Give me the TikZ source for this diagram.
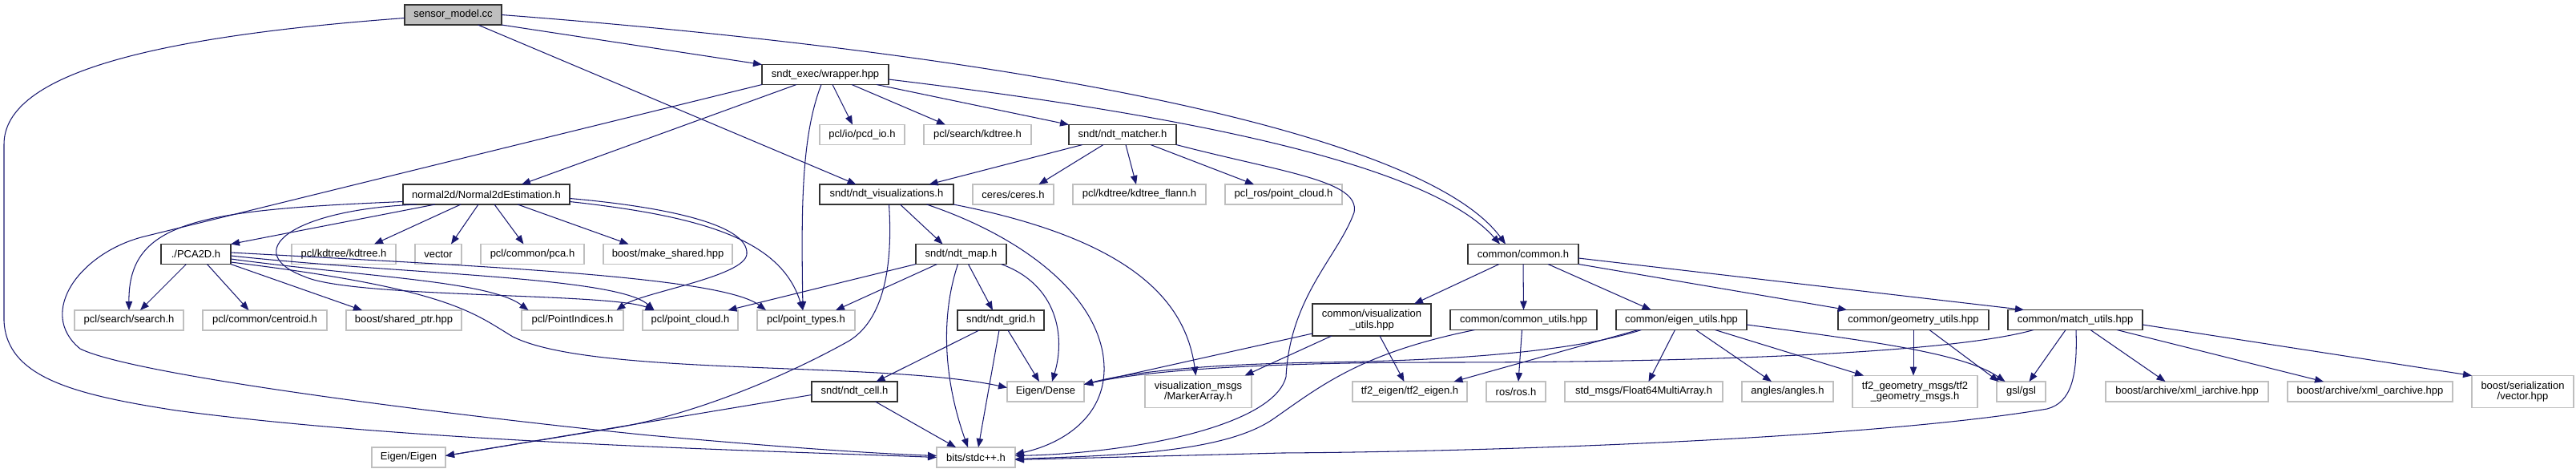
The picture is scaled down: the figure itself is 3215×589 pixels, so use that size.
\documentclass[tikz,border=0pt]{standalone}
\usepackage{fontspec}
\setmainfont{Liberation Sans}
\usetikzlibrary{positioning, arrows.meta}
\definecolor{edgeblue}{HTML}{191970}
\definecolor{extgray}{HTML}{BFBFBF}

\begin{document}
\begin{tikzpicture}[
  x=1pt, y=1pt,
  node distance=24pt,
  file/.style={draw=black!80, line width=1.2pt, minimum height=25pt, inner sep=1pt,
               outer sep=0pt, align=center, font=\fontsize{13}{13.5}\selectfont},
  extfile/.style={file, draw=extgray},
  rootfile/.style={file, fill=extgray},
  arr/.style={-{Triangle[length=11pt, width=8.5pt]}, edgeblue, line width=1.05pt}
 ]
\useasboundingbox (0,0) rectangle (3215,-589);

\node[rootfile, minimum width=121pt] (sensor) at (565.5,-18.5) {sensor\_model.cc};
\node[file, minimum width=158pt] (wrapper) at (1030,-93) {sndt\_exec/wrapper.hpp};
\node[extfile, minimum width=106pt] (pcdio) at (1076,-168) {pcl/io/pcd\_io.h};
\node[extfile, minimum width=134pt, right=of pcdio] (searchkd) {pcl/search/kdtree.h};
\node[file, minimum width=134pt, right=47pt of searchkd] (matcher) {sndt/ndt\_matcher.h};
\node[file, minimum width=208pt] (normal2d) at (607,-242.5) {normal2d/Normal2dEstimation.h};
\node[file, minimum width=167pt] (ndtvis) at (1106.5,-242.5) {sndt/ndt\_visualizations.h};
\node[extfile, minimum width=101pt, right=of ndtvis] (ceres) {ceres/ceres.h};
\node[extfile, minimum width=166pt, right=of ceres] (flann) {pcl/kdtree/kdtree\_flann.h};
\node[extfile, minimum width=146pt, right=of flann] (rospc) {pcl\_ros/point\_cloud.h};
\node[file, minimum width=87pt] (pca2d) at (244.5,-317) {./PCA2D.h};
\node[extfile, minimum width=130pt, right=76pt of pca2d] (kdtree) {pcl/kdtree/kdtree.h};
\node[extfile, minimum width=58pt, right=of kdtree] (vector) {vector};
\node[extfile, minimum width=129pt, right=of vector] (pca) {pcl/common/pca.h};
\node[extfile, minimum width=161pt, right=of pca] (makeshared) {boost/make\_shared.hpp};
\node[file, minimum width=113pt] (ndtmap) at (1199.5,-317) {sndt/ndt\_map.h};
\node[file, minimum width=138pt] (common) at (1901,-317) {common/common.h};
\node[extfile, minimum width=136pt] (search) at (161,-399.5) {pcl/search/search.h};
\node[extfile, minimum width=155pt, right=of search] (centroid) {pcl/common/centroid.h};
\node[extfile, minimum width=144pt, right=of centroid] (sharedptr) {boost/shared\_ptr.hpp};
\node[extfile, minimum width=127pt, right=75pt of sharedptr] (pointindices) {pcl/PointIndices.h};
\node[extfile, minimum width=119pt, right=of pointindices] (pointcloud) {pcl/point\_cloud.h};
\node[extfile, minimum width=122pt, right=of pointcloud] (pointtypes) {pcl/point\_types.h};
\node[file, minimum width=108pt] (ndtgrid) at (1249,-399.5) {sndt/ndt\_grid.h};
\node[file, minimum width=148pt, minimum height=40pt] (visutils) at (1712,-399) {common/visualization\\\_utils.hpp};
\node[file, minimum width=183pt, right=of visutils] (commonutils) {common/common\_utils.hpp};
\node[file, minimum width=163pt, right=of commonutils] (eigenutils) {common/eigen\_utils.hpp};
\node[file, minimum width=188pt, right=114pt of eigenutils] (geomutils) {common/geometry\_utils.hpp};
\node[file, minimum width=168pt, right=of geomutils] (matchutils) {common/match\_utils.hpp};
\node[file, minimum width=107pt] (ndtcell) at (1066.5,-488.5) {sndt/ndt\_cell.h};
\node[extfile, minimum width=96pt] (dense) at (1305,-488.5) {Eigen/Dense};
\node[extfile, minimum width=133pt, minimum height=40pt, right=76pt of dense] (marker) {visualization\_msgs\\/MarkerArray.h};
\node[extfile, minimum width=143pt] (tf2eigen) at (1759.5,-488.5) {tf2\_eigen/tf2\_eigen.h};
\node[extfile, minimum width=74pt, right=of tf2eigen] (rosh) {ros/ros.h};
\node[extfile, minimum width=197pt, right=of rosh] (float64) {std\_msgs/Float64MultiArray.h};
\node[extfile, minimum width=114pt, right=of float64] (angles) {angles/angles.h};
\node[extfile, minimum width=156pt, minimum height=40pt, right=of angles] (tf2geom) {tf2\_geometry\_msgs/tf2\\\_geometry\_msgs.h};
\node[extfile, minimum width=61pt, right=of tf2geom] (gsl) {gsl/gsl};
\node[extfile, minimum width=203pt, right=75pt of gsl] (xmli) {boost/archive/xml\_iarchive.hpp};
\node[extfile, minimum width=206pt, right=of xmli] (xmlo) {boost/archive/xml\_oarchive.hpp};
\node[extfile, minimum width=127pt, minimum height=40pt, right=of xmlo] (vectorhpp) {boost/serialization\\/vector.hpp};
\node[extfile, minimum width=92pt] (eigen) at (510,-570.5) {Eigen/Eigen};
\node[extfile, minimum width=98pt] (bits) at (1218,-570.5) {bits/stdc++.h};

\draw[arr] ([yshift=-4pt]sensor.west) .. controls (200,-45) and (5,-90) .. (5,-180) -- (5,-400) .. controls (8,-470) and (90,-492) .. (220,-512) .. controls (520,-552) and (950,-562) .. (bits.west);
\draw[arr] (sensor.south east) -- (wrapper.north west);
\draw[arr] (sensor.east) .. controls (1300,-70) and (1780,-170) .. ([xshift=-22pt]common.north);
\draw[arr] ([xshift=31pt]sensor.south) -- ([xshift=-38pt]ndtvis.north);

\draw[arr] (wrapper.south west) -- (180,-295) .. controls (100,-315) and (45,-390) .. (100,-435) .. controls (170,-470) and (600,-522) .. (810,-543) .. controls (1000,-560) and (1100,-566) .. ([yshift=2pt]bits.west);
\draw[arr] ([xshift=-36pt]wrapper.south) -- ([xshift=44pt]normal2d.north);
\draw[arr] ([xshift=-5pt]wrapper.south) .. controls (1000,-170) and (1000,-260) .. ([xshift=-4pt]pointtypes.north);
\draw[arr] ([xshift=9pt]wrapper.south) -- ([xshift=-12pt]pcdio.north);
\draw[arr] ([xshift=33pt]wrapper.south) -- ([xshift=-40pt]searchkd.north);
\draw[arr] ([xshift=64pt]wrapper.south) -- (matcher.north west);
\draw[arr] ([yshift=-6pt]wrapper.east) .. controls (1450,-140) and (1780,-200) .. ([xshift=-29pt]common.north);

\draw[arr] ([xshift=-64pt]normal2d.south) -- (pca2d.north east);
\draw[arr] ([xshift=-32pt]normal2d.south) -- ([xshift=38pt]kdtree.north);
\draw[arr] ([xshift=-10pt]normal2d.south) -- ([xshift=16pt]vector.north);
\draw[arr] ([xshift=10pt]normal2d.south) -- ([xshift=-11pt]pca.north);
\draw[arr] ([xshift=39pt]normal2d.south) -- ([xshift=-49pt]makeshared.north);
\draw[arr] ([yshift=-9pt]normal2d.west) .. controls (250,-262) and (160,-275) .. (search.north);
\draw[arr] ([xshift=-87pt]normal2d.south) .. controls (360,-262) and (300,-315) .. (380,-345) .. controls (440,-372) and (760,-365) .. ([xshift=-45pt]pointcloud.north);
\draw[arr] ([yshift=-5pt]normal2d.east) .. controls (830,-258) and (935,-280) .. (932,-317) .. controls (930,-345) and (800,-365) .. ([xshift=55pt]pointindices.north);
\draw[arr] ([yshift=-9pt]normal2d.east) .. controls (880,-270) and (975,-300) .. ([xshift=-4pt]pointtypes.north);

\draw[arr] ([xshift=-12pt]pca2d.south) -- ([xshift=14pt]search.north);
\draw[arr] ([xshift=14pt]pca2d.south) -- ([xshift=-20pt]centroid.north);
\draw[arr] (pca2d.south east) -- ([xshift=-52pt]sharedptr.north);
\draw[arr] ([yshift=-6pt]pca2d.east) .. controls (450,-345) and (610,-350) .. ([xshift=-55pt]pointindices.north);
\draw[arr] ([yshift=-2pt]pca2d.east) .. controls (500,-342) and (770,-345) .. ([xshift=-45pt]pointcloud.north);
\draw[arr] ([yshift=2pt]pca2d.east) .. controls (600,-332) and (900,-345) .. ([xshift=-50pt]pointtypes.north);
\draw[arr] ([yshift=-10pt]pca2d.east) .. controls (560,-360) and (590,-390) .. (640,-420) .. controls (740,-470) and (1100,-450) .. ([yshift=5pt]dense.west);

\draw[arr] ([xshift=-50pt]matcher.south) -- ([xshift=53pt]ndtvis.north);
\draw[arr] ([xshift=-24pt]matcher.south) -- ([xshift=32pt]ceres.north);
\draw[arr] ([xshift=4pt]matcher.south) -- ([xshift=-4pt]flann.north);
\draw[arr] ([xshift=35pt]matcher.south) -- ([xshift=-37pt]rospc.north);
\draw[arr] (matcher.south east) .. controls (1600,-215) and (1698,-225) .. (1690,-265) .. controls (1670,-320) and (1610,-370) .. (1605,-470) .. controls (1590,-530) and (1420,-565) .. ([yshift=2pt]bits.east);

\draw[arr] ([xshift=17pt]ndtvis.south) -- ([xshift=-23pt]ndtmap.north);
\draw[arr] ([xshift=3pt]ndtvis.south) .. controls (1115,-340) and (1100,-400) .. (1060,-425) .. controls (980,-470) and (860,-520) .. (760,-535) -- ([yshift=2pt]eigen.east);
\draw[arr] ([xshift=50pt]ndtvis.south) .. controls (1290,-300) and (1380,-380) .. (1378,-463) .. controls (1376,-525) and (1320,-555) .. ([yshift=4pt]bits.east);
\draw[arr] (ndtvis.south east) .. controls (1420,-300) and (1480,-380) .. ([xshift=-3pt]marker.north);

\draw[arr] (ndtmap.south west) -- ([xshift=47pt]pointcloud.north);
\draw[arr] ([xshift=-30pt]ndtmap.south) -- ([xshift=37pt]pointtypes.north);
\draw[arr] ([xshift=-4pt]ndtmap.south) .. controls (1172,-400) and (1180,-480) .. ([xshift=-10pt]bits.north);
\draw[arr] ([xshift=9pt]ndtmap.south) -- ([xshift=-10pt]ndtgrid.north);
\draw[arr] ([xshift=50pt]ndtmap.south) .. controls (1320,-355) and (1330,-420) .. ([xshift=8pt]dense.north);

\draw[arr] ([xshift=-27pt]ndtgrid.south) -- ([xshift=27pt]ndtcell.north);
\draw[arr] ([xshift=-2pt]ndtgrid.south) -- ([xshift=3pt]bits.north);
\draw[arr] ([xshift=9pt]ndtgrid.south) -- ([xshift=-8pt]dense.north);

\draw[arr] ([yshift=-4pt]ndtcell.west) -- ([yshift=2pt]eigen.east);
\draw[arr] ([xshift=26pt]ndtcell.south) -- ([xshift=-25pt]bits.north);

\draw[arr] ([xshift=-30pt]common.south) -- ([xshift=53pt]visutils.north);
\draw[arr] (common.south) -- (commonutils.north);
\draw[arr] ([xshift=31pt]common.south) -- ([xshift=-38pt]eigenutils.north);
\draw[arr] (common.south east) -- ([xshift=-83pt]geomutils.north);
\draw[arr] ([yshift=-5pt]common.east) -- ([xshift=-64pt]matchutils.north);

\draw[arr] ([yshift=-17pt]visutils.west) -- ([yshift=9pt]dense.east);
\draw[arr] ([xshift=-50pt]visutils.south) -- ([xshift=58pt]marker.north);
\draw[arr] ([xshift=10pt]visutils.south) -- ([xshift=-7pt]tf2eigen.north);

\draw[arr] ([xshift=-2pt]commonutils.south) -- ([xshift=3pt]rosh.north);
\draw[arr] ([xshift=-61pt]commonutils.south) .. controls (1700,-440) and (1650,-480) .. (1590,-522) .. controls (1530,-564) and (1400,-568) .. ([yshift=-2pt]bits.east);

\draw[arr] ([xshift=-50pt]eigenutils.south) .. controls (1960,-440) and (1800,-450) .. (1650,-452) .. controls (1520,-454) and (1420,-462) .. ([yshift=9pt]dense.east);
\draw[arr] ([xshift=-54pt]eigenutils.south) -- ([xshift=55pt]tf2eigen.north);
\draw[arr] ([xshift=-8pt]eigenutils.south) -- ([xshift=6pt]float64.north);
\draw[arr] ([xshift=18pt]eigenutils.south) -- ([xshift=-20pt]angles.north);
\draw[arr] ([xshift=42pt]eigenutils.south) -- ([xshift=-64pt]tf2geom.north);
\draw[arr] ([yshift=-6pt]eigenutils.east) .. controls (2330,-425) and (2450,-440) .. ([xshift=-20pt]gsl.north);

\draw[arr] (geomutils.south) -- ([xshift=-2pt]tf2geom.north);
\draw[arr] ([xshift=20pt]geomutils.south) -- ([xshift=-28pt]gsl.north);

\draw[arr] ([xshift=-52pt]matchutils.south) .. controls (2430,-442) and (2100,-452) .. (1800,-452) .. controls (1600,-452) and (1440,-460) .. ([yshift=9pt]dense.east);
\draw[arr] ([xshift=-12pt]matchutils.south) -- ([xshift=10pt]gsl.north);
\draw[arr] ([xshift=1pt]matchutils.south) .. controls (2593,-470) and (2585,-502) .. (2555,-510) .. controls (2350,-545) and (1900,-563) .. (1600,-565) -- ([yshift=-3pt]bits.east);
\draw[arr] ([xshift=19pt]matchutils.south) -- ([xshift=-27pt]xmli.north);
\draw[arr] ([xshift=52pt]matchutils.south) -- ([xshift=-58pt]xmlo.north);
\draw[arr] ([yshift=-6pt]matchutils.east) -- (vectorhpp.north west);
\end{tikzpicture}
\end{document}
